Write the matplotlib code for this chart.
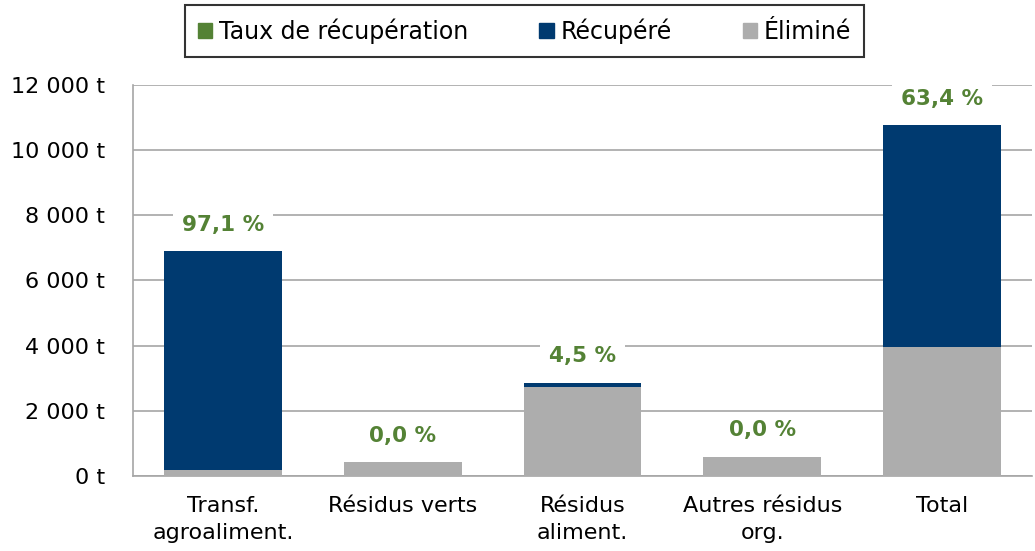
import matplotlib
matplotlib.use("Agg")
import matplotlib.pyplot as plt
from matplotlib.patches import Patch
from matplotlib.ticker import FuncFormatter

categories = ["Transf.\nagroaliment.", "Résidus verts", "Résidus\naliment.", "Autres résidus\norg.", "Total"]
elimine = [200, 430, 2730, 600, 3950]
recupere = [6700, 0, 130, 0, 6820]
taux_labels = ["97,1 %", "0,0 %", "4,5 %", "0,0 %", "63,4 %"]
yticks = [0, 2000, 4000, 6000, 8000, 10000, 12000]

plt.rcParams['font.family'] = ['DejaVu Sans']

NAVY = "#003a70"
GREY = "#adadad"
GREEN = "#548235"

fig = plt.figure(figsize=(10.35, 5.51), dpi=100)
ax = fig.add_axes([0.1285, 0.136, 0.8685, 0.71])

x = list(range(len(categories)))
w = 0.655
ax.bar(x, elimine, width=w, color=GREY, linewidth=0, zorder=3)
ax.bar(x, recupere, width=w, bottom=elimine, color=NAVY, linewidth=0, zorder=3)

for xi, e, r, lab in zip(x, elimine, recupere, taux_labels):
    ax.annotate(lab, (xi, e + r), xytext=(0, 19), textcoords="offset points",
                ha="center", va="center", color=GREEN, fontsize=15.5, fontweight="bold",
                bbox=dict(boxstyle="square,pad=0.4", fc="white", ec="none"), zorder=4)

ax.set_xlim(-0.5, len(categories) - 0.5)
ax.set_ylim(0, 12000)
ax.set_yticks(yticks)
ax.yaxis.set_major_formatter(FuncFormatter(lambda v, p: f"{int(v):,} t".replace(",", " ")))
ax.set_xticks(x)
ax.set_xticklabels(categories, fontsize=16, linespacing=1.45)
ax.tick_params(axis="y", labelsize=16, length=0, pad=20)
ax.tick_params(axis="x", length=0, pad=14)
ax.grid(axis="y", color="#a6a6a6", linewidth=1.2, zorder=0)
ax.set_axisbelow(True)
for s in ["top", "right"]:
    ax.spines[s].set_visible(False)
for s in ["left", "bottom"]:
    ax.spines[s].set_color("#a6a6a6")
    ax.spines[s].set_linewidth(1.2)

handles = [Patch(color=GREEN), Patch(color=NAVY), Patch(color=GREY)]
leg = fig.legend(handles, ["Taux de récupération", "Récupéré", "Éliminé"], ncol=3,
                 loc="center", bbox_to_anchor=(0.507, 0.944), fontsize=17,
                 frameon=True, fancybox=False, edgecolor="black", handlelength=0.6,
                 handleheight=0.6, handletextpad=0.3, columnspacing=3.0,
                 borderpad=0.55, borderaxespad=0)
leg.get_frame().set_linewidth(1.5)

fig.savefig("out.png", dpi=100)
